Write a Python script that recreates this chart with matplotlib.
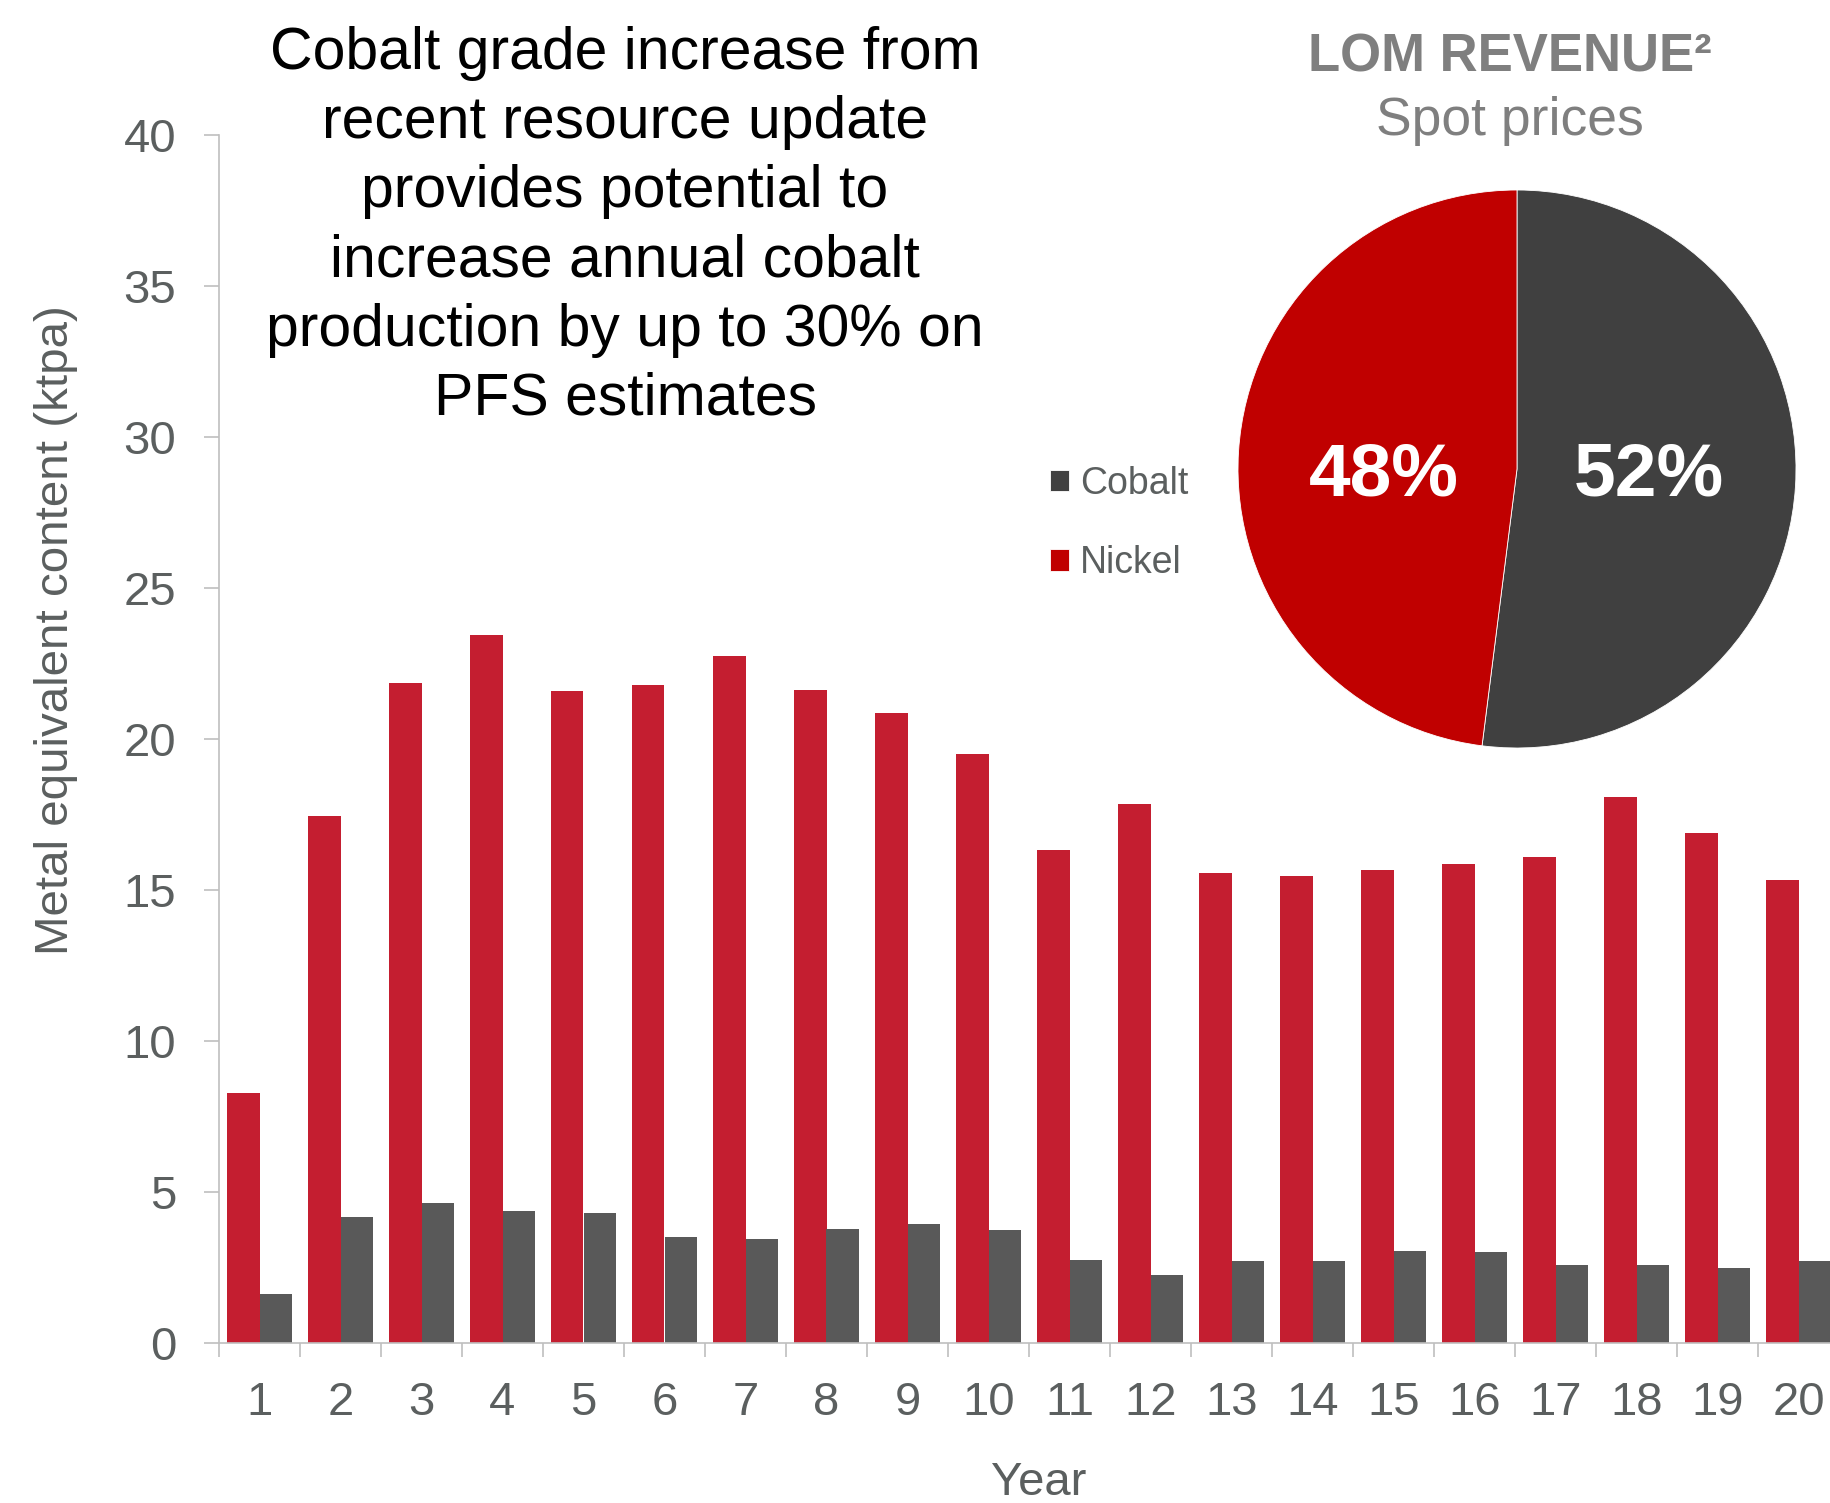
import matplotlib
matplotlib.use("Agg")
import matplotlib.pyplot as plt
import numpy as np

plt.rcParams['font.family'] = ['Liberation Sans', 'DejaVu Sans']

years = list(range(1, 21))
year_labels = [str(y) for y in years]
nickel = [8.26, 17.46, 21.86, 23.45, 21.6, 21.79, 22.75, 21.63, 20.86, 19.5,
          16.33, 17.84, 15.56, 15.45, 15.64, 15.87, 16.1, 18.07, 16.88, 15.33]
cobalt = [1.61, 4.16, 4.62, 4.35, 4.31, 3.5, 3.42, 3.77, 3.93, 3.73,
          2.73, 2.23, 2.69, 2.69, 3.04, 3.0, 2.57, 2.57, 2.46, 2.69]
pie_labels = ['Cobalt', 'Nickel']
pie_values = [52, 48]

title_text = ("Cobalt grade increase from\nrecent resource update\nprovides potential to\n"
              "increase annual cobalt\nproduction by up to 30% on\nPFS estimates")

W, H = 1830, 1503
fig = plt.figure(figsize=(W / 100, H / 100), dpi=100)

GRAY_TXT = '#5b5f5f'
RED_BAR = '#C41E30'
GRAY_BAR = '#595959'
SPINE = '#BFBFBF'

ax = fig.add_axes([219 / W, 160.3 / H, 1620 / W, 1207.7 / H])
x = np.arange(1, 21)
ax.bar(x - 0.2, nickel, width=0.4, color=RED_BAR, linewidth=0)
ax.bar(x + 0.2, cobalt, width=0.4, color=GRAY_BAR, linewidth=0)
ax.set_xlim(0.5, 20.5)
ax.set_ylim(0, 40)
ax.set_yticks(np.arange(0, 41, 5))
ax.set_xticks(x)
ax.set_xticklabels(year_labels)
ax.set_xticks(np.arange(0.5, 21, 1), minor=True)
ax.tick_params(axis='x', which='major', length=0, pad=27.5, labelsize=34, labelcolor=GRAY_TXT)
ax.tick_params(axis='x', which='minor', length=10, width=1.2, color=SPINE, direction='out')
ax.tick_params(axis='y', length=10.8, width=1.2, color=SPINE, pad=20, labelsize=34, labelcolor=GRAY_TXT)
for s in ['top', 'right']:
    ax.spines[s].set_visible(False)
for s in ['left', 'bottom']:
    ax.spines[s].set_color(SPINE)
    ax.spines[s].set_linewidth(1.2)

fig.text(56 / W, 1 - 630 / H, "Metal equivalent content (ktpa)", rotation=90,
         ha='center', va='center', fontsize=34.2, color=GRAY_TXT)
fig.text(1039 / W, 1 - 1483 / H, "Year", ha='center', va='center', fontsize=34, color=GRAY_TXT)

fig.text(625 / W, 1 - 26 / H, title_text, ha='center', va='top', fontsize=42.4,
         color='black', linespacing=1.33)

# Pie
pax = fig.add_axes([(1517 - 279) / W, 1 - (469 + 279) / H, 558 / W, 558 / H])
wedges, _, autotexts = pax.pie(pie_values, colors=['#404040', '#C00000'], startangle=90,
                               counterclock=False, autopct=lambda p: f'{p:.0f}%',
                               pctdistance=0.48, radius=1,
                               wedgeprops=dict(linewidth=0.6, edgecolor='white'))
pct_pos = [(0.474, -0.025), (-0.477, -0.025)]
for t, pos in zip(autotexts, pct_pos):
    t.set_position(pos)
    t.set_color('white')
    t.set_fontsize(54)
    t.set_fontweight('bold')
pax.set_xlim(-1, 1)
pax.set_ylim(-1, 1)
pax.set_aspect('equal')
pax.axis('off')

fig.legend(wedges, pie_labels, loc='center left', bbox_to_anchor=(1050 / W, 1 - 523.5 / H),
           frameon=False, fontsize=27, handlelength=0.5, handleheight=0.5,
           handletextpad=0.3, labelspacing=1.16, borderpad=0, borderaxespad=0,
           labelcolor=GRAY_TXT)

fig.text(1510 / W, 1 - 58 / H, "LOM REVENUE²", ha='center', va='center',
         fontsize=38, fontweight='bold', color='#7F7F7F')
fig.text(1510 / W, 1 - 121 / H, "Spot prices", ha='center', va='center',
         fontsize=38.5, color='#7F7F7F')

fig.savefig('out.png', dpi=100)
